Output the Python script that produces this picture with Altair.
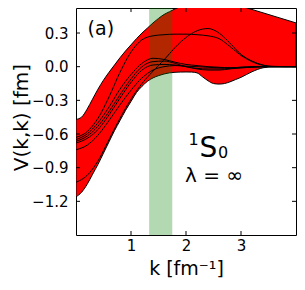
import altair as alt
import pandas as pd

# ---------------- data ----------------
# uncertainty band (k in fm^-1, V in fm)
band_k = [0.0, 0.1, 0.2, 0.3, 0.4, 0.5, 0.6, 0.7, 0.8, 0.9, 1.0, 1.1, 1.2, 1.3, 1.4, 1.5,
          1.6, 1.7, 1.8, 1.9, 2.0, 2.1, 2.2, 2.3, 2.4, 2.5, 2.6, 2.7, 2.8, 2.9, 3.0,
          3.2, 3.4, 3.6, 3.8, 4.0]
band_hi = [-0.47, -0.45, -0.38, -0.29, -0.20, -0.12, -0.05, 0.015, 0.08, 0.14, 0.195, 0.25,
           0.30, 0.345, 0.39, 0.43, 0.465, 0.49, 0.515, 0.535, 0.55, 0.56, 0.565, 0.57,
           0.572, 0.57, 0.565, 0.558, 0.55, 0.54, 0.535, 0.51, 0.48, 0.45, 0.42, 0.39]
band_lo = [-1.16, -1.12, -1.05, -0.96, -0.87, -0.77, -0.67, -0.57, -0.48, -0.39, -0.31, -0.23,
           -0.175, -0.13, -0.10, -0.08, -0.065, -0.055, -0.05, -0.048, -0.047, -0.048, -0.055,
           -0.09, -0.125, -0.15, -0.155, -0.15, -0.135, -0.115, -0.095, -0.045, -0.01, 0.0,
           0.0, 0.0]

# individual potentials
curve_k = [0.0, 0.2, 0.4, 0.6, 0.8, 1.0, 1.2, 1.4, 1.6, 1.8, 2.0, 2.2, 2.4, 2.6, 2.8, 3.0,
           3.2, 3.4, 3.6, 3.8, 4.0]
curve_a = [-0.63, -0.58, -0.46, -0.27, -0.05, 0.13, 0.24, 0.275, 0.285, 0.29, 0.29, 0.285,
           0.275, 0.25, 0.18, 0.10, 0.045, 0.012, 0.003, 0.0, 0.0]
curve_b = [-1.03, -0.97, -0.84, -0.65, -0.46, -0.29, -0.15, -0.04, 0.06, 0.17, 0.26, 0.32,
           0.34, 0.30, 0.21, 0.11, 0.05, 0.015, 0.0, 0.0, 0.0]
curve_c = [-0.65, -0.60, -0.50, -0.36, -0.20, -0.07, 0.03, 0.075, 0.065, 0.04, 0.02, 0.01,
           0.0, -0.005, -0.01, -0.005, 0.0, 0.0, 0.0, 0.0, 0.0]
curve_d = [-0.665, -0.62, -0.53, -0.40, -0.25, -0.11, 0.0, 0.045, 0.05, 0.03, 0.0, -0.015,
           -0.02, -0.02, -0.015, -0.01, -0.005, 0.0, 0.0, 0.0, 0.0]
curve_e = [-0.68, -0.64, -0.56, -0.43, -0.28, -0.14, -0.03, 0.015, 0.02, 0.015, 0.0, -0.02,
           -0.03, -0.03, -0.02, -0.01, -0.005, 0.0, 0.0, 0.0, 0.0]
curve_f = [-0.74, -0.70, -0.61, -0.48, -0.34, -0.21, -0.10, -0.03, 0.0, 0.01, 0.005, 0.0,
           -0.005, -0.01, -0.01, -0.005, 0.0, 0.0, 0.0, 0.0, 0.0]

# shaded k window
window_k = [1.33, 1.75]

# ticks
x_ticks = [1, 2, 3]
y_ticks = [-1.2, -0.9, -0.6, -0.3, 0.0, 0.3]

# ---------------- tables ----------------
band_df = pd.DataFrame({"k": band_k, "lo": band_lo, "hi": band_hi})
curves = {"A": curve_a, "B": curve_b, "C": curve_c, "D": curve_d, "E": curve_e, "F": curve_f}
lines_df = pd.concat(
    [pd.DataFrame({"k": curve_k, "V": v, "curve": name}) for name, v in curves.items()],
    ignore_index=True,
)
win_df = pd.DataFrame({"k1": [window_k[0]], "k2": [window_k[1]]})
xt_df = pd.DataFrame({"v": x_ticks})
yt_df = pd.DataFrame({"v": y_ticks})

W, H = 220, 227
FONT = "DejaVu Sans"
xs = alt.Scale(domain=[0, 4], nice=False, zero=False)
ys = alt.Scale(domain=[-1.5, 0.523], nice=False, zero=False)

x_axis = alt.Axis(
    values=x_ticks, format="d", ticks=False, tickSize=0, domain=False, grid=False,
    labelFont=FONT, labelFontSize=15, labelColor="black", labelPadding=3,
    labelFlush=False,
    title="k [fm⁻¹]", titleFont=FONT, titleFontSize=19, titleFontWeight="normal",
    titleColor="black", titleBaseline="alphabetic", titleY=39)
y_axis = alt.Axis(
    values=y_ticks, format=".1f", ticks=False, tickSize=0, domain=False, grid=False,
    labelFont=FONT, labelFontSize=15, labelColor="black", labelPadding=8,
    labelFlush=False,
    title="V(k,k) [fm]", titleFont=FONT, titleFontSize=20, titleFontWeight="normal",
    titleColor="black", titleAngle=270, titleBaseline="alphabetic",
    titleAlign="center", titleX=-49, titleY=109)

band = alt.Chart(band_df).mark_area(
    color="#ff0000", stroke="black", strokeWidth=1, interpolate="monotone", clip=True
).encode(
    x=alt.X("k:Q", scale=xs, axis=x_axis),
    y=alt.Y("lo:Q", scale=ys, axis=y_axis),
    y2="hi:Q",
)

window = alt.Chart(win_df).mark_rect(color="#008000", opacity=0.3).encode(
    x=alt.X("k1:Q", scale=xs, axis=x_axis),
    x2="k2:Q",
    y=alt.value(0),
    y2=alt.value(H),
)

lines = alt.Chart(lines_df).mark_line(
    color="black", strokeWidth=1, interpolate="monotone", clip=True
).encode(
    x=alt.X("k:Q", scale=xs, axis=x_axis),
    y=alt.Y("V:Q", scale=ys, axis=y_axis),
    detail="curve:N",
)

tick_len = 4
left_t = alt.Chart(yt_df).mark_rule(color="black", strokeWidth=1).encode(
    y=alt.Y("v:Q", scale=ys, axis=y_axis), x=alt.value(0), x2=alt.value(tick_len))
right_t = alt.Chart(yt_df).mark_rule(color="black", strokeWidth=1).encode(
    y=alt.Y("v:Q", scale=ys, axis=y_axis), x=alt.value(W), x2=alt.value(W - tick_len))
bottom_t = alt.Chart(xt_df).mark_rule(color="black", strokeWidth=1).encode(
    x=alt.X("v:Q", scale=xs, axis=x_axis), y=alt.value(H), y2=alt.value(H - tick_len))
top_t = alt.Chart(xt_df).mark_rule(color="black", strokeWidth=1).encode(
    x=alt.X("v:Q", scale=xs, axis=x_axis), y=alt.value(0), y2=alt.value(tick_len))


def note(txt, kx, vy, size, style="normal"):
    return alt.Chart(alt.Data(values=[{}])).mark_text(
        text=txt, font=FONT, fontSize=size, fontStyle=style, color="black",
        align="center", baseline="alphabetic"
    ).encode(
        x=alt.XDatum(kx, scale=xs, axis=x_axis),
        y=alt.YDatum(vy, scale=ys, axis=y_axis),
    )


notes = [
    note("(a)", 0.451, 0.282, 19),
    note("1", 2.136, -0.697, 16),
    note("S", 2.409, -0.804, 28),
    note("0", 2.673, -0.813, 16),
    note("λ = ∞", 2.509, -1.027, 20),
]

chart = alt.layer(band, window, lines, left_t, right_t, bottom_t, top_t, *notes).properties(
    width=W,
    height=H,
    autosize=alt.AutoSizeParams(type="none"),
    padding={"left": 68, "top": 0, "right": 1, "bottom": 44},
    background="white",
).configure_view(stroke="black", strokeWidth=1)

chart.save("out.html", embed_options={"renderer": "svg", "actions": False})
